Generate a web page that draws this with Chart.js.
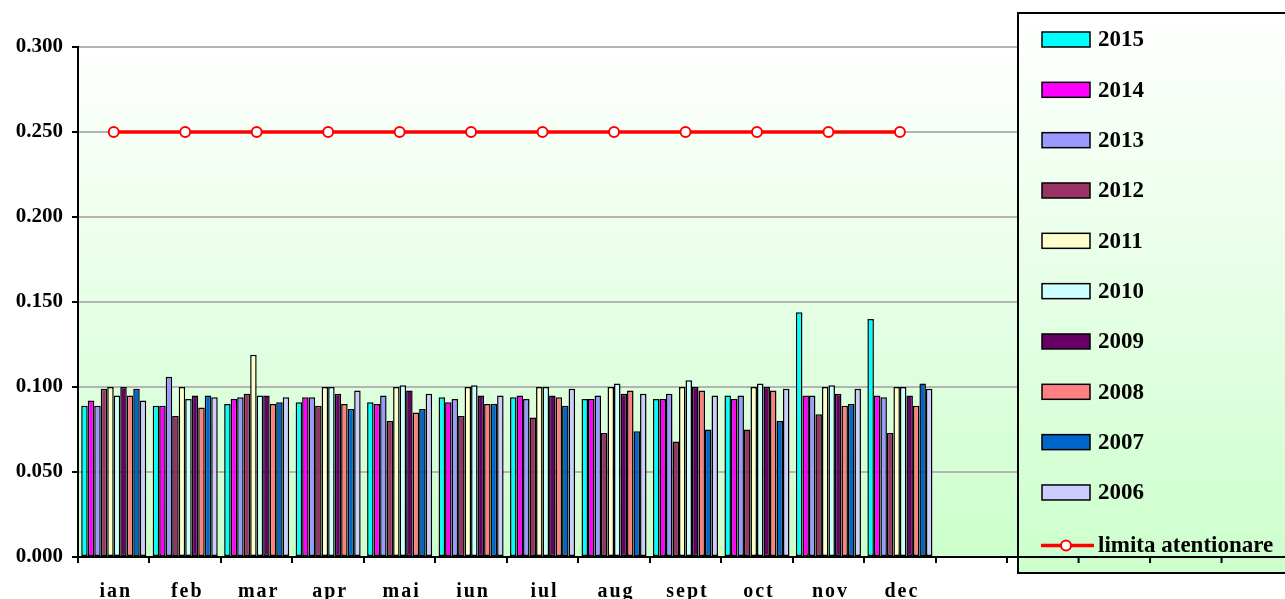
<!DOCTYPE html>
<html>
<head>
<meta charset="utf-8">
<script src="https://cdn.jsdelivr.net/npm/chart.js@4/dist/chart.umd.min.js"></script>
<style>
    body { margin: 0; overflow: hidden; background: #fff; }
</style>
</head>
<body>
<canvas id="chart" width="1300" height="599"></canvas>
<script>
//months (the axis keeps some empty slots after dec)
const months = ['ian', 'feb', 'mar', 'apr', 'mai', 'iun', 'iul', 'aug', 'sept', 'oct', 'nov', 'dec', '', '', '', '', ''];

//yearly values per month
const y2015 = [0.089, 0.089, 0.090, 0.091, 0.091, 0.094, 0.094, 0.093, 0.093, 0.095, 0.144, 0.140];
const y2014 = [0.092, 0.089, 0.093, 0.094, 0.090, 0.091, 0.095, 0.093, 0.093, 0.093, 0.095, 0.095];
const y2013 = [0.089, 0.106, 0.094, 0.094, 0.095, 0.093, 0.093, 0.095, 0.096, 0.095, 0.095, 0.094];
const y2012 = [0.099, 0.083, 0.096, 0.089, 0.080, 0.083, 0.082, 0.073, 0.068, 0.075, 0.084, 0.073];
const y2011 = [0.100, 0.100, 0.119, 0.100, 0.100, 0.100, 0.100, 0.100, 0.100, 0.100, 0.100, 0.100];
const y2010 = [0.095, 0.093, 0.095, 0.100, 0.101, 0.101, 0.100, 0.102, 0.104, 0.102, 0.101, 0.100];
const y2009 = [0.100, 0.095, 0.095, 0.096, 0.098, 0.095, 0.095, 0.096, 0.100, 0.100, 0.096, 0.095];
const y2008 = [0.095, 0.088, 0.090, 0.090, 0.085, 0.090, 0.094, 0.098, 0.098, 0.098, 0.089, 0.089];
const y2007 = [0.099, 0.095, 0.091, 0.087, 0.087, 0.090, 0.089, 0.074, 0.075, 0.080, 0.090, 0.102];
const y2006 = [0.092, 0.094, 0.094, 0.098, 0.096, 0.095, 0.099, 0.096, 0.095, 0.099, 0.099, 0.099];

//alert limit
const limit = [0.25, 0.25, 0.25, 0.25, 0.25, 0.25, 0.25, 0.25, 0.25, 0.25, 0.25, 0.25];

const yTicks = [0, 0.05, 0.1, 0.15, 0.2, 0.25, 0.3];

const years = ['2015', '2014', '2013', '2012', '2011', '2010', '2009', '2008', '2007', '2006'];
const yearData = [y2015, y2014, y2013, y2012, y2011, y2010, y2009, y2008, y2007, y2006];
const yearColors = ['#00ffff', '#ff00ff', '#9999ff', '#993366', '#ffffcc', '#ccffff', '#660066', '#ff8080', '#0066cc', '#ccccff'];

const serif = "'Liberation Serif', 'Times New Roman', serif";

let datasets = years.map((year, i) => ({
    type: 'bar',
    label: year,
    data: yearData[i],
    backgroundColor: yearColors[i],
    borderColor: '#000',
    borderWidth: 1.5,
    borderSkipped: false,
    categoryPercentage: 0.91,
    barPercentage: 1,
    order: 1
}));

datasets.push({
    type: 'line',
    label: 'limita atentionare',
    data: limit,
    borderColor: '#ff0000',
    borderWidth: 3.5,
    pointRadius: 5,
    pointBorderWidth: 2,
    pointBackgroundColor: '#ffffff',
    pointBorderColor: '#ff0000',
    order: 0
});

//green gradient behind the plot
const plotBackground = {
    id: 'plotBackground',
    beforeDraw(chart) {
        const ctx = chart.ctx;
        const a = chart.chartArea;
        const g = ctx.createLinearGradient(0, a.top, 0, a.bottom);
        g.addColorStop(0, '#ffffff');
        g.addColorStop(1, '#ccffcc');
        ctx.save();
        ctx.fillStyle = g;
        ctx.fillRect(a.left, a.top, a.right - a.left, a.bottom - a.top);
        ctx.restore();
    },
    afterDatasetsDraw(chart) {
        //spaced month labels are drawn after this hook
        chart.ctx.letterSpacing = '2px';
    }
};

//legend box drawn over the right part of the plot
const boxLegend = {
    id: 'boxLegend',
    afterDraw(chart) {
        const ctx = chart.ctx;
        ctx.letterSpacing = '0px';
        const left = 1018, top = 13, bottom = 573;
        ctx.save();
        const g = ctx.createLinearGradient(0, top, 0, bottom);
        g.addColorStop(0, '#ffffff');
        g.addColorStop(1, '#ccffcc');
        ctx.fillStyle = g;
        ctx.fillRect(left, top, chart.width - left + 10, bottom - top);
        ctx.strokeStyle = '#000';
        ctx.lineWidth = 2;
        ctx.strokeRect(left, top, chart.width - left + 10, bottom - top);

        ctx.font = 'bold 23px ' + serif;
        ctx.textBaseline = 'middle';
        chart.data.datasets.forEach((ds, i) => {
            const cy = i < 10 ? 39.5 + i * 50.33 : 545.5;
            if (ds.type === 'bar') {
                ctx.fillStyle = ds.backgroundColor;
                ctx.fillRect(1042, cy - 7.5, 48, 15);
                ctx.lineWidth = 1.5;
                ctx.strokeStyle = '#000';
                ctx.strokeRect(1042, cy - 7.5, 48, 15);
            } else {
                ctx.strokeStyle = ds.borderColor;
                ctx.lineWidth = 3.5;
                ctx.beginPath();
                ctx.moveTo(1041, cy);
                ctx.lineTo(1094, cy);
                ctx.stroke();
                ctx.beginPath();
                ctx.arc(1066, cy, 5, 0, Math.PI * 2);
                ctx.fillStyle = '#fff';
                ctx.fill();
                ctx.lineWidth = 2;
                ctx.stroke();
            }
            ctx.fillStyle = '#000';
            ctx.fillText(ds.label, 1098, cy + 1);
        });

        //category axis runs over the legend box
        const a = chart.chartArea;
        const step = (a.right - a.left) / months.length;
        ctx.strokeStyle = '#000';
        ctx.lineWidth = 2;
        ctx.beginPath();
        ctx.moveTo(left - 1, a.bottom);
        ctx.lineTo(chart.width, a.bottom);
        for (let i = 0; i <= months.length; i++) {
            const x = a.left + i * step;
            if (x > left) {
                ctx.moveTo(x, a.bottom);
                ctx.lineTo(x, a.bottom + 6);
            }
        }
        ctx.stroke();
        ctx.restore();
    }
};

const ctx = document.getElementById('chart').getContext('2d');
const chart = new Chart(ctx, {
    data: {
        labels: months,
        datasets: datasets
    },
    options: {
        responsive: false,
        animation: false,
        layout: {
            padding: { top: 47, right: 4, left: 0, bottom: 0 }
        },
        plugins: {
            legend: { display: false },
            tooltip: { enabled: false }
        },
        scales: {
            x: {
                afterFit(scale) { scale.height = 42; },
                grid: {
                    drawOnChartArea: false,
                    color: '#000',
                    lineWidth: 2,
                    tickLength: 6
                },
                border: { color: '#000', width: 2 },
                ticks: {
                    z: 1,
                    padding: 17,
                    labelOffset: 2,
                    color: '#000',
                    maxRotation: 0,
                    autoSkip: false,
                    font: { family: serif, size: 20, weight: 'bold' }
                }
            },
            y: {
                min: 0,
                max: 0.3,
                afterFit(scale) { scale.width = 78; },
                afterBuildTicks(scale) { scale.ticks = yTicks.map(v => ({ value: v })); },
                grid: {
                    color: '#b4b4b4',
                    lineWidth: 2,
                    tickColor: '#000',
                    tickLength: 6
                },
                border: { color: '#000', width: 2 },
                ticks: {
                    padding: 9,
                    color: '#000',
                    font: { family: serif, size: 21, weight: 'bold' },
                    callback: v => v.toFixed(3)
                }
            }
        }
    },
    plugins: [plotBackground, boxLegend]
});
</script>
</body>
</html>
